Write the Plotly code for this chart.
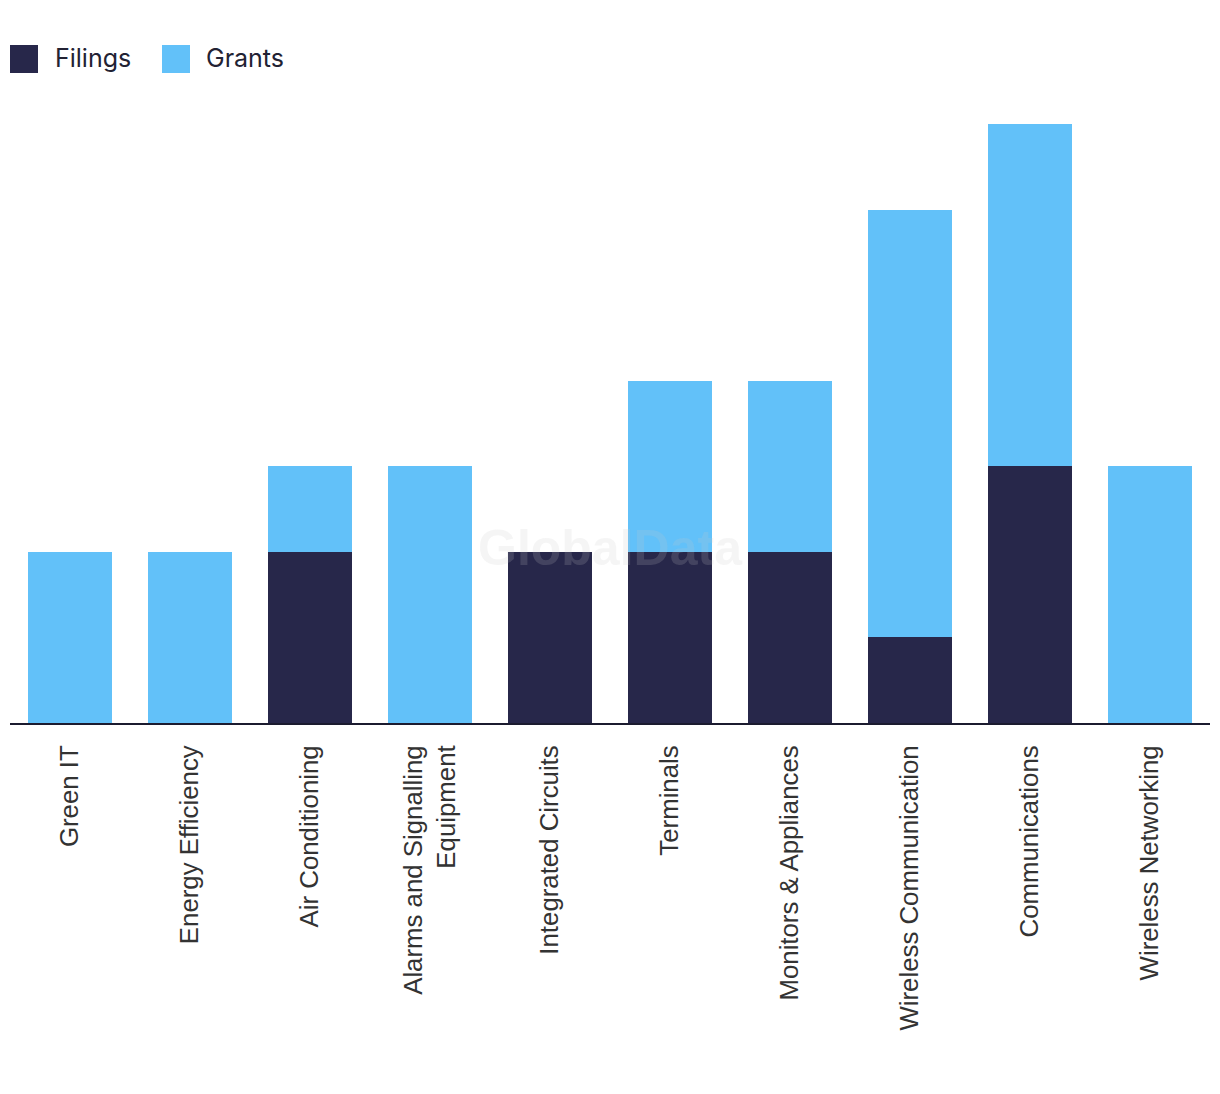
import plotly.graph_objects as go

categories = ["Green IT", "Energy Efficiency", "Air Conditioning",
              "Alarms and Signalling<br>Equipment", "Integrated Circuits", "Terminals",
              "Monitors & Appliances", "Wireless Communication", "Communications",
              "Wireless Networking"]
filings = [0, 0, 2, 0, 2, 2, 2, 1, 3, 0]
grants = [2, 2, 1, 3, 0, 2, 2, 5, 4, 3]

DARK = "#27274a"
LIGHT = "#62c1f9"

# page body has an 8px margin, so the figure is sized/positioned to compensate
W, H = 1212, 1086
L, R, T, B = 2, 10, 116, 371
PW, PH = W - L - R, H - T - B

fig = go.Figure()
fig.add_trace(go.Bar(x=categories, y=filings, name="Filings", marker_color=DARK,
                     marker_line_width=0, showlegend=False))
fig.add_trace(go.Bar(x=categories, y=grants, name="Grants", marker_color=LIGHT,
                     marker_line_width=0, showlegend=False))

fig.update_layout(
    barmode="stack",
    bargap=0.3,
    width=W, height=H,
    margin=dict(l=L, r=R, t=T, b=B),
    paper_bgcolor="white", plot_bgcolor="white",
    xaxis=dict(showline=True, linecolor="#1b1b2f", linewidth=2, tickangle=-90,
               tickfont=dict(family="Liberation Sans, Arial", size=25.8, color="#333333"),
               ticks="outside", ticklen=10, tickcolor="rgba(0,0,0,0)", showgrid=False),
    yaxis=dict(range=[0, 7], visible=False, showgrid=False),
)

# legend drawn manually (large square swatches); coordinates in page px
def px_x(x):
    return (x - 8 - L) / PW

def px_y(y):
    return (H - B - (y - 8)) / PH

legend_items = [("Filings", DARK, 10, 55), ("Grants", LIGHT, 162, 206)]
for name, col, x0, tx in legend_items:
    fig.add_shape(type="rect", xref="paper", yref="paper",
                  x0=px_x(x0), x1=px_x(x0 + 28),
                  y0=px_y(73), y1=px_y(45),
                  fillcolor=col, line_width=0)
    fig.add_annotation(text=name, xref="paper", yref="paper",
                       x=px_x(tx - 2), y=px_y(58),
                       xanchor="left", yanchor="middle", showarrow=False,
                       font=dict(family="Inter, Lato, sans-serif", size=25, color="#222233"))

# watermark
fig.add_annotation(text="<b>GlobalData</b>", xref="paper", yref="paper",
                   x=px_x(610), y=px_y(548), xanchor="center", yanchor="middle",
                   showarrow=False,
                   font=dict(family="Liberation Sans, Arial", size=50, color="rgba(200,200,200,0.18)"))

fig.write_html("out.html")
